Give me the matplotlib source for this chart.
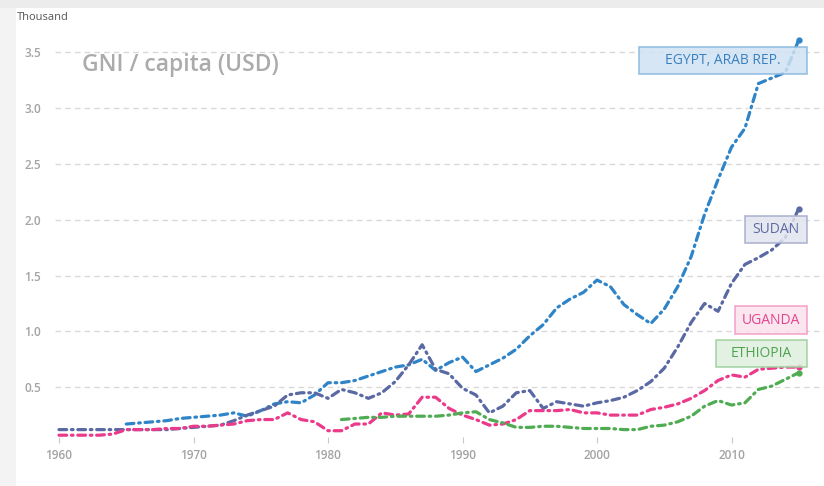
import numpy as np
import matplotlib
matplotlib.use('Agg')
import matplotlib.pyplot as plt
from matplotlib.patches import Rectangle

plt.rcParams['font.family'] = ['Open Sans', 'DejaVu Sans']

# GNI per capita, thousand USD
years_egypt = list(range(1965, 2016))
egypt = [0.17, 0.18, 0.19, 0.20, 0.22, 0.23, 0.24, 0.25, 0.27, 0.24,
         0.29, 0.35, 0.37, 0.36, 0.43, 0.54, 0.54, 0.56, 0.60, 0.64,
         0.68, 0.70, 0.75, 0.65, 0.72, 0.77, 0.64, 0.70, 0.76, 0.84,
         0.96, 1.06, 1.21, 1.29, 1.35, 1.46, 1.40, 1.24, 1.15, 1.07,
         1.20, 1.40, 1.67, 2.05, 2.36, 2.65, 2.82, 3.22, 3.27, 3.32,
         3.61]

years_sudan = list(range(1960, 2016))
sudan = [0.12, 0.12, 0.12, 0.12, 0.12, 0.12, 0.12, 0.12, 0.12, 0.13,
         0.14, 0.15, 0.16, 0.20, 0.25, 0.29, 0.33, 0.43, 0.45, 0.45,
         0.40, 0.48, 0.45, 0.40, 0.45, 0.55, 0.70, 0.88, 0.66, 0.62,
         0.49, 0.43, 0.27, 0.33, 0.45, 0.47, 0.31, 0.37, 0.35, 0.33,
         0.36, 0.38, 0.41, 0.47, 0.55, 0.67, 0.86, 1.08, 1.25, 1.18,
         1.43, 1.60, 1.66, 1.73, 1.84, 2.10]

years_uganda = list(range(1960, 2016))
uganda = [0.07, 0.07, 0.07, 0.07, 0.08, 0.12, 0.12, 0.12, 0.13, 0.13,
          0.15, 0.15, 0.16, 0.17, 0.20, 0.21, 0.21, 0.27, 0.21, 0.19,
          0.11, 0.11, 0.17, 0.17, 0.27, 0.25, 0.26, 0.41, 0.41, 0.31,
          0.25, 0.21, 0.16, 0.17, 0.21, 0.29, 0.29, 0.29, 0.30, 0.27,
          0.27, 0.25, 0.25, 0.25, 0.30, 0.32, 0.35, 0.40, 0.47, 0.56,
          0.61, 0.59, 0.66, 0.67, 0.68, 0.68]

years_ethiopia = list(range(1981, 2016))
ethiopia = [0.21, 0.22, 0.23, 0.23, 0.24, 0.24, 0.24, 0.24, 0.25, 0.27,
            0.28, 0.21, 0.18, 0.14, 0.14, 0.15, 0.15, 0.14, 0.13, 0.13,
            0.13, 0.12, 0.12, 0.15, 0.16, 0.19, 0.24, 0.33, 0.38, 0.34,
            0.36, 0.48, 0.51, 0.57, 0.63]

series = [
    ('EGYPT, ARAB REP.', years_egypt, egypt, '#2f84c8', '#cfe2f3', '#86b7df', '#3a80c0'),
    ('SUDAN', years_sudan, sudan, '#5a69a3', '#e1e3ef', '#a4abcc', '#5d6aa0'),
    ('UGANDA', years_uganda, uganda, '#ec3a8b', '#fbe1ed', '#f19ac2', '#e2458d'),
    ('ETHIOPIA', years_ethiopia, ethiopia, '#4fac52', '#ddefdd', '#9bcf9b', '#4fa350'),
]

# label boxes in pixels: left, top, right, bottom
label_boxes = {
    'EGYPT, ARAB REP.': (639, 47, 807, 74),
    'SUDAN': (745, 216, 807, 243),
    'UGANDA': (735, 306, 807, 334),
    'ETHIOPIA': (716, 340, 807, 367),
}

W, H = 824, 486
fig = plt.figure(figsize=(W / 100, H / 100), dpi=100)
fig.patch.set_facecolor('white')

# screenshot frame
fig.add_artist(Rectangle((0, 0), 16 / W, 1, transform=fig.transFigure,
                         facecolor='#f3f3f3', edgecolor='none', zorder=0))
fig.add_artist(Rectangle((0, 1 - 8 / H), 1, 8 / H, transform=fig.transFigure,
                         facecolor='#ececec', edgecolor='none', zorder=0))

ax_left, ax_right, ax_top, ax_bottom = 55, 824, 30, 443
ax = fig.add_axes([ax_left / W, 1 - ax_bottom / H,
                   (ax_right - ax_left) / W, (ax_bottom - ax_top) / H])
ax.set_facecolor('none')

for name, yrs, vals, col, fill, edge, tcol in series:
    ax.plot(yrs, vals, color='white', lw=4.0, solid_capstyle='round', zorder=2, alpha=0.8)
    ax.plot(yrs, vals, color=col, lw=2.3, linestyle=(0, (2.4, 1.5, 0.5, 1.5)),
            dash_capstyle='round', zorder=3)
    ax.plot(yrs[-1], vals[-1], 'o', color=col, ms=3.5, zorder=4)

ax.set_xlim(1960 - 4 / 13.45, 1960 + (ax_right - 59) / 13.45)
ax.set_ylim(0, 3.7)
ax.set_xticks([1960, 1970, 1980, 1990, 2000, 2010])
ax.set_yticks([0.5, 1.0, 1.5, 2.0, 2.5, 3.0, 3.5])
ax.set_yticklabels(['0.5', '1.0', '1.5', '2.0', '2.5', '3.0', '3.5'])
ax.yaxis.grid(True, color='#d9d9d9', linestyle=(0, (4, 3)), lw=1)
ax.set_axisbelow(True)
for s in ax.spines.values():
    s.set_visible(False)
ax.tick_params(axis='y', length=0, pad=10, labelsize=8.5, labelcolor='#a3a3a3')
ax.tick_params(axis='x', direction='in', length=4, width=0.8, color='#c8c8c8',
               pad=4, labelsize=8.5, labelcolor='#a3a3a3')
for lab in ax.get_xticklabels() + ax.get_yticklabels():
    lab.set_fontweight('semibold')

for name, yrs, vals, col, fill, edge, tcol in series:
    l, t, r, b = label_boxes[name]
    fig.add_artist(Rectangle((l / W, 1 - b / H), (r - l) / W, (b - t) / H,
                             transform=fig.transFigure, facecolor=fill, alpha=0.85,
                             edgecolor=edge, lw=1.2, zorder=5))
    fig.text((l + r) / 2 / W, 1 - (t + b) / 2 / H, name, color=tcol,
             fontsize=10, ha='center', va='center', zorder=6)

fig.text(17 / W, 1 - 18 / H, 'Thousand', fontsize=8, color='#555555',
         ha='left', va='center')
fig.text(82 / W, 1 - 65 / H, 'GNI / capita (USD)', fontsize=16.5, color='#ababab',
         fontweight='semibold', ha='left', va='center')

fig.savefig('out.png', dpi=100)
